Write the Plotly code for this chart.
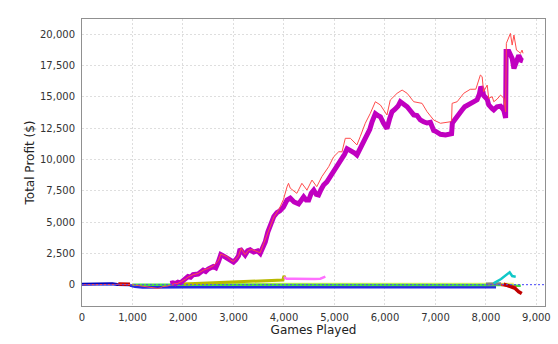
import plotly.graph_objects as go

# ---- main series (games, profit) ----
main_games = [1750, 1800, 1850, 1900, 1950, 2000, 2050, 2100, 2150, 2200, 2300, 2400, 2450, 2500, 2600,
              2650, 2700, 2750, 2800, 2870, 2950, 3000, 3050, 3100, 3130, 3180, 3230, 3280, 3330, 3400,
              3480, 3530, 3580, 3630, 3680, 3730, 3800, 3860, 3920, 3990, 4060, 4125, 4200, 4290, 4340,
              4390, 4440, 4490, 4540, 4590, 4640, 4685, 4735, 4785, 4850, 4915, 4980, 5050, 5100, 5150,
              5200, 5250, 5300, 5345, 5400, 5445, 5500, 5545, 5600, 5645, 5700, 5745, 5810, 5860, 5910,
              5970, 6040, 6090, 6140, 6200, 6260, 6305, 6340, 6400, 6440, 6500, 6570, 6635, 6700, 6765,
              6835, 6900, 6965, 7000, 7050, 7100, 7200, 7295, 7320, 7335, 7400, 7460, 7520, 7580, 7625,
              7690, 7760, 7825, 7870, 7900, 7925, 7955, 8025, 8055, 8125, 8155, 8220, 8290, 8330, 8355,
              8390, 8400, 8455, 8490, 8520, 8555, 8580, 8605, 8650, 8680, 8700, 8735]
main_profit = [100, 150, 80, 200, 150, 350, 500, 650, 600, 800, 850, 1150, 1050, 1250, 1450,
               1350, 1800, 2400, 2300, 2150, 1900, 1800, 2000, 2300, 2850, 2600, 2370, 2700, 2780, 2600,
               2700, 2500, 2950, 3420, 4200, 4850, 5450, 5750, 5900, 6200, 6750, 6900, 6600, 6450, 6800,
               7000, 6750, 6750, 7300, 7550, 7200, 7150, 7600, 7950, 8200, 8600, 9000, 9400, 9700, 9950,
               10400, 10850, 10750, 10700, 10500, 10350, 10800, 11150, 11500, 11800, 12400, 13000, 13650, 13500, 13400,
               12900, 12450, 13200, 13800, 14000, 14250, 14600, 14500, 14350, 14200, 13900, 13550, 13500, 13150, 13000,
               12900, 12950, 12300, 12250, 12100, 12000, 11950, 12000, 12050, 12900, 13300, 13650, 13900, 14200, 14300,
               14450, 14600, 14750, 15200, 15800, 15600, 15100, 14800, 14350, 14050, 13950, 14200, 14250, 14050, 13900,
               13300, 18600, 18600, 18300, 18050, 17250, 17700, 17800, 18300, 18050, 17900, 17850]

# ---- upper (thin red) series ----
upper_games = [0, 200, 400, 600, 800, 1000, 1100, 1200, 1300, 1400, 1500, 1550, 1600, 1700, 1800,
               1900, 2000, 2050, 2100, 2200, 2300, 2400, 2500, 2600, 2700, 2750, 2800, 2870, 2950, 3000,
               3100, 3150, 3230, 3300, 3365, 3450, 3530, 3600, 3700, 3800, 3900, 3990, 4060, 4090, 4125,
               4255, 4355, 4455, 4555, 4650, 4750, 4885, 4985, 5085, 5150, 5215, 5315, 5445, 5510, 5610,
               5710, 5810, 5910, 6040, 6105, 6240, 6340, 6440, 6570, 6735, 6835, 6965, 7100, 7295, 7320,
               7330, 7430, 7560, 7690, 7800, 7890, 7925, 7955, 8025, 8055, 8125, 8155, 8220, 8290, 8355,
               8390, 8405, 8485, 8520, 8555, 8605, 8650, 8685, 8715, 8735]
upper_profit = [0, 20, -20, 10, 30, 0, -50, -120, -150, -220, -300, -250, -150, -100, 50,
                100, 300, 450, 600, 800, 900, 1150, 1300, 1500, 1900, 2450, 2350, 2250, 1950, 1850,
                2300, 2900, 2400, 2750, 2800, 2650, 2550, 3300, 4300, 5400, 6000, 6800, 7800, 8090, 7700,
                7290, 8090, 7550, 8350, 7820, 8620, 9410, 10210, 10610, 10600, 11680, 11680, 11150, 11810, 12880,
                13670, 14600, 14340, 13540, 14730, 15270, 15530, 15270, 14600, 14470, 13800, 13140, 12880, 13000, 13100,
                14470, 14600, 15270, 15590, 15600, 16730, 16600, 15400, 15930, 14870, 15000, 14600, 14800, 15130, 14870,
                13800, 19260, 20050, 19120, 19920, 18720, 18590, 18460, 18720, 18460]

# ---- small series near zero ----
blue_a_games = [0, 100, 200, 300, 400, 500, 600, 700, 800, 900, 950]
blue_a_profit = [40, 50, 20, 60, 40, 30, 70, 10, 30, 20, 0]

darkred_a_games = [720, 800, 950]
darkred_a_profit = [50, 60, 40]

blue_b_games = [950, 1050, 1200, 1500, 2000, 3000, 4000, 5000, 6000, 7000, 7800, 7850, 8000, 8200]
blue_b_profit = [-50, -150, -200, -180, -180, -180, -180, -180, -180, -180, -180, -220, -180, -180]

yellow_games = [2000, 4000, 6000, 8000, 8550]
yellow_profit = [60, 60, 60, 60, 50]

green_games = [1000, 2000, 4000, 6000, 8000, 8450, 8550, 8690]
green_profit = [0, 0, 0, 0, 0, -30, -80, -80]

olive_games = [2000, 2500, 3000, 3500, 3980, 4000, 4020]
olive_profit = [50, 120, 200, 280, 380, 700, 550]

pink_games = [4000, 4050, 4200, 4400, 4600, 4720, 4820]
pink_profit = [620, 480, 470, 450, 460, 480, 640]

gray_games = [8000, 8150, 8300]
gray_profit = [60, 100, 80]

cyan_games = [8150, 8300, 8470, 8520, 8590]
cyan_profit = [100, 450, 990, 690, 640]

red_b_games = [8300, 8450, 8600]
red_b_profit = [0, -100, -200]

darkred_b_games = [8350, 8480, 8580, 8650, 8710]
darkred_b_profit = [50, -150, -300, -560, -700]

x_ticks = [0, 1000, 2000, 3000, 4000, 5000, 6000, 7000, 8000, 9000]
y_ticks = [0, 2500, 5000, 7500, 10000, 12500, 15000, 17500, 20000]

fig = go.Figure()

def add(xs, ys, color, width):
    fig.add_trace(go.Scatter(x=xs, y=ys, mode="lines", line=dict(color=color, width=width),
                             hoverinfo="skip", showlegend=False))

add(blue_b_games, blue_b_profit, "#2828e0", 3)
add(blue_a_games, blue_a_profit, "#0000b8", 3)
add(darkred_a_games, darkred_a_profit, "#c00000", 3.5)
add(yellow_games, yellow_profit, "#f0f070", 2.5)
add(green_games, green_profit, "#44e044", 2.5)
add(olive_games, olive_profit, "#b8b800", 3)
add(pink_games, pink_profit, "#ff70ff", 2.5)
add(gray_games, gray_profit, "#808080", 3)
add(cyan_games, cyan_profit, "#10c8c8", 2.5)
add(red_b_games, red_b_profit, "#ff2020", 2.5)
add(darkred_b_games, darkred_b_profit, "#c00000", 3.5)
add(main_games, main_profit, "#c000c0", 5)
add(upper_games, upper_profit, "#ff4c4c", 1)

fig.add_hline(y=0, line=dict(color="#4848ff", width=1, dash="2px,2px"), layer="above")

axis_common = dict(
    showgrid=True, gridcolor="#dedede", griddash="2px,2px", gridwidth=1,
    showline=True, linecolor="#909090", linewidth=1, mirror=True,
    zeroline=False, ticks="outside", tickcolor="rgba(0,0,0,0)",
    tickfont=dict(family="DejaVu Sans", size=10, color="#333333"),
    tickformat=",d", automargin=False,
)

fig.update_xaxes(range=[0, 9170], tickvals=x_ticks, ticklen=2,
                 title=dict(text="Games Played", font=dict(family="DejaVu Sans", size=12, color="#222"), standoff=2),
                 **axis_common)
fig.update_yaxes(range=[-1700, 21200], tickvals=y_ticks, ticklen=4,
                 title=dict(text="Total Profit ($)", font=dict(family="DejaVu Sans", size=12, color="#222"), standoff=2),
                 **axis_common)

fig.update_layout(width=558, height=344, margin=dict(l=82, r=13, t=19, b=38, autoexpand=False),
                  plot_bgcolor="white", paper_bgcolor="white", showlegend=False)

fig.write_html("out.html")
